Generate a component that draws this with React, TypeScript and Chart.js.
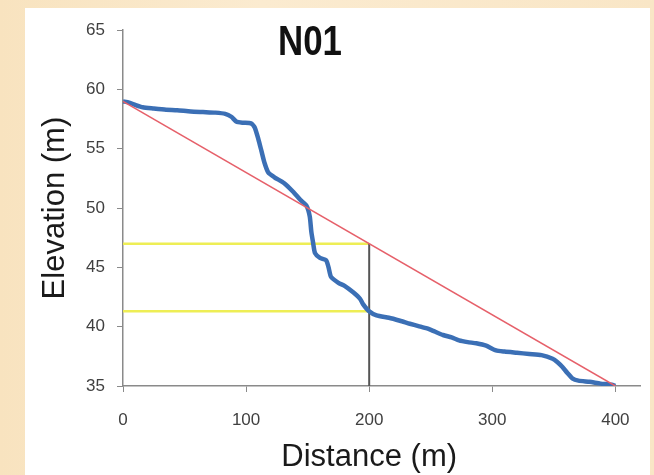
import React, { useEffect, useRef } from "react";
import { Chart, registerables } from "chart.js";

Chart.register(...registerables);

const chartTitle = "N01";
const xAxisTitle = "Distance (m)";
const yAxisTitle = "Elevation (m)";

const xTickValues = [0, 100, 200, 300, 400];
const yTickValues = [35, 40, 45, 50, 55, 60, 65];

const profileDistance = [
  0, 5, 10, 16, 25, 35, 44, 55, 65, 75, 83, 88, 92, 97, 104, 107, 110, 112.5, 115, 118,
  123, 131, 138, 144, 149, 151.7, 153, 154.4, 156, 160, 165, 167, 169, 175, 180, 187,
  192.6, 195, 199.4, 206, 216, 225, 233, 240, 247, 253, 260, 267, 273, 280, 287, 295,
  303, 310, 320, 330, 340, 349, 353, 357, 361, 365, 370, 379, 388, 397, 400,
];
const profileElevation = [
  59.0, 58.9, 58.7, 58.5, 58.4, 58.3, 58.25, 58.15, 58.1, 58.05, 57.95, 57.7, 57.3, 57.2,
  57.15, 56.8, 55.8, 54.8, 53.8, 53.0, 52.6, 52.1, 51.4, 50.7, 50.2, 49.3, 48.0, 47.1,
  46.2, 45.8, 45.6, 45.0, 44.2, 43.7, 43.45, 42.9, 42.35, 41.9, 41.35, 40.95, 40.75,
  40.5, 40.25, 40.05, 39.85, 39.6, 39.3, 39.1, 38.85, 38.7, 38.6, 38.4, 38.0, 37.9, 37.8,
  37.7, 37.6, 37.3, 37.0, 36.6, 36.1, 35.65, 35.45, 35.35, 35.2, 35.1, 35.0,
];

const chordDistance = [0, 400];
const chordElevation = [59, 35];

const upperLevel = 47;
const lowerLevel = 41.3;
const levelDistance = [0, 200];
const markerDistance = 200;
const markerElevation = [35, 47];

const xMin = 0;
const xMax = 420;
const yMin = 35;
const yMax = 65;

const FONT = '"Liberation Sans", Arial, sans-serif';

const textPlugin = {
  id: "extraText",
  afterDraw(chart: any) {
    const ctx = chart.ctx;
    ctx.save();
    // chart title (narrow bold)
    ctx.font = `bold 42px ${FONT}`;
    ctx.fillStyle = "#111111";
    ctx.textAlign = "center";
    ctx.textBaseline = "alphabetic";
    ctx.translate(285, 47);
    ctx.scale(0.83, 1);
    ctx.fillText(chartTitle, 0, 0);
    ctx.restore();

    // x axis title centred on the 0..400 span
    const xs = chart.scales.x;
    const cx = (xs.getPixelForValue(xTickValues[0]) + xs.getPixelForValue(xTickValues[xTickValues.length - 1])) / 2;
    ctx.save();
    ctx.font = `31px ${FONT}`;
    ctx.fillStyle = "#1a1a1a";
    ctx.textAlign = "center";
    ctx.textBaseline = "middle";
    ctx.fillText(xAxisTitle, cx, 449);
    ctx.restore();
  },
};

export default function App() {
  const canvasRef = useRef<HTMLCanvasElement | null>(null);

  useEffect(() => {
    if (!canvasRef.current) return;
    const profile = profileDistance.map((x, i) => ({ x, y: profileElevation[i] }));
    const chord = chordDistance.map((x, i) => ({ x, y: chordElevation[i] }));
    const upper = levelDistance.map((x) => ({ x, y: upperLevel }));
    const lower = levelDistance.map((x) => ({ x, y: lowerLevel }));
    const marker = markerElevation.map((y) => ({ x: markerDistance, y }));

    const chart = new Chart(canvasRef.current, {
      type: "scatter",
      data: {
        datasets: [
          { data: chord, showLine: true, borderColor: "#e6606a", borderWidth: 1.5, pointRadius: 0 },
          { data: profile, showLine: true, borderColor: "#3b6fb5", borderWidth: 4.5, pointRadius: 0, tension: 0.2 },
          { data: marker, showLine: true, borderColor: "#555555", borderWidth: 2, pointRadius: 0 },
          { data: upper, showLine: true, borderColor: "#eeee55", borderWidth: 2.5, pointRadius: 0 },
          { data: lower, showLine: true, borderColor: "#eeee55", borderWidth: 2.5, pointRadius: 0 },
        ] as any,
      },
      options: {
        animation: false,
        responsive: false,
        maintainAspectRatio: false,
        layout: { padding: { top: 20, right: 10, left: 0, bottom: 0 } },
        plugins: { legend: { display: false }, tooltip: { enabled: false }, title: { display: false } },
        scales: {
          x: {
            type: "linear",
            min: xMin,
            max: xMax,
            afterBuildTicks: (scale: any) => {
              scale.ticks = xTickValues.map((v) => ({ value: v }));
            },
            afterFit: (scale: any) => {
              scale.height = 89;
            },
            grid: { drawOnChartArea: false, drawTicks: true, tickLength: 6, color: "#8a8a8a" },
            border: { color: "#8a8a8a", width: 1.5 },
            ticks: {
              padding: 18,
              color: "#404040",
              font: { family: FONT, size: 17 },
              maxRotation: 0,
            },
            title: { display: false },
          },
          y: {
            type: "linear",
            min: yMin,
            max: yMax,
            afterBuildTicks: (scale: any) => {
              scale.ticks = yTickValues.map((v) => ({ value: v }));
            },
            afterFit: (scale: any) => {
              scale.width = 98;
            },
            grid: { drawOnChartArea: false, drawTicks: true, tickLength: 6, color: "#8a8a8a" },
            border: { color: "#8a8a8a", width: 1.5 },
            ticks: {
              padding: 12,
              color: "#404040",
              font: { family: FONT, size: 17 },
            },
            title: {
              display: true,
              text: yAxisTitle,
              color: "#1a1a1a",
              font: { family: FONT, size: 31, lineHeight: 1 },
              padding: { top: 15, bottom: 0 },
            },
          },
        },
      },
      plugins: [textPlugin],
    });
    return () => chart.destroy();
  }, []);

  return (
    <div
      style={{
        position: "fixed",
        left: 0,
        top: 0,
        width: 654,
        height: 475,
        background: "linear-gradient(90deg, #f8e3bf 0%, #fbebd0 40%, #f9e6c6 100%)",
        overflow: "hidden",
      }}
    >
      <div
        style={{
          position: "absolute",
          left: 25,
          top: 8,
          width: 625,
          height: 467,
          background: "#ffffff",
        }}
      >
        <canvas ref={canvasRef} width={625} height={467} style={{ display: "block", width: 625, height: 467 }} />
      </div>
    </div>
  );
}
